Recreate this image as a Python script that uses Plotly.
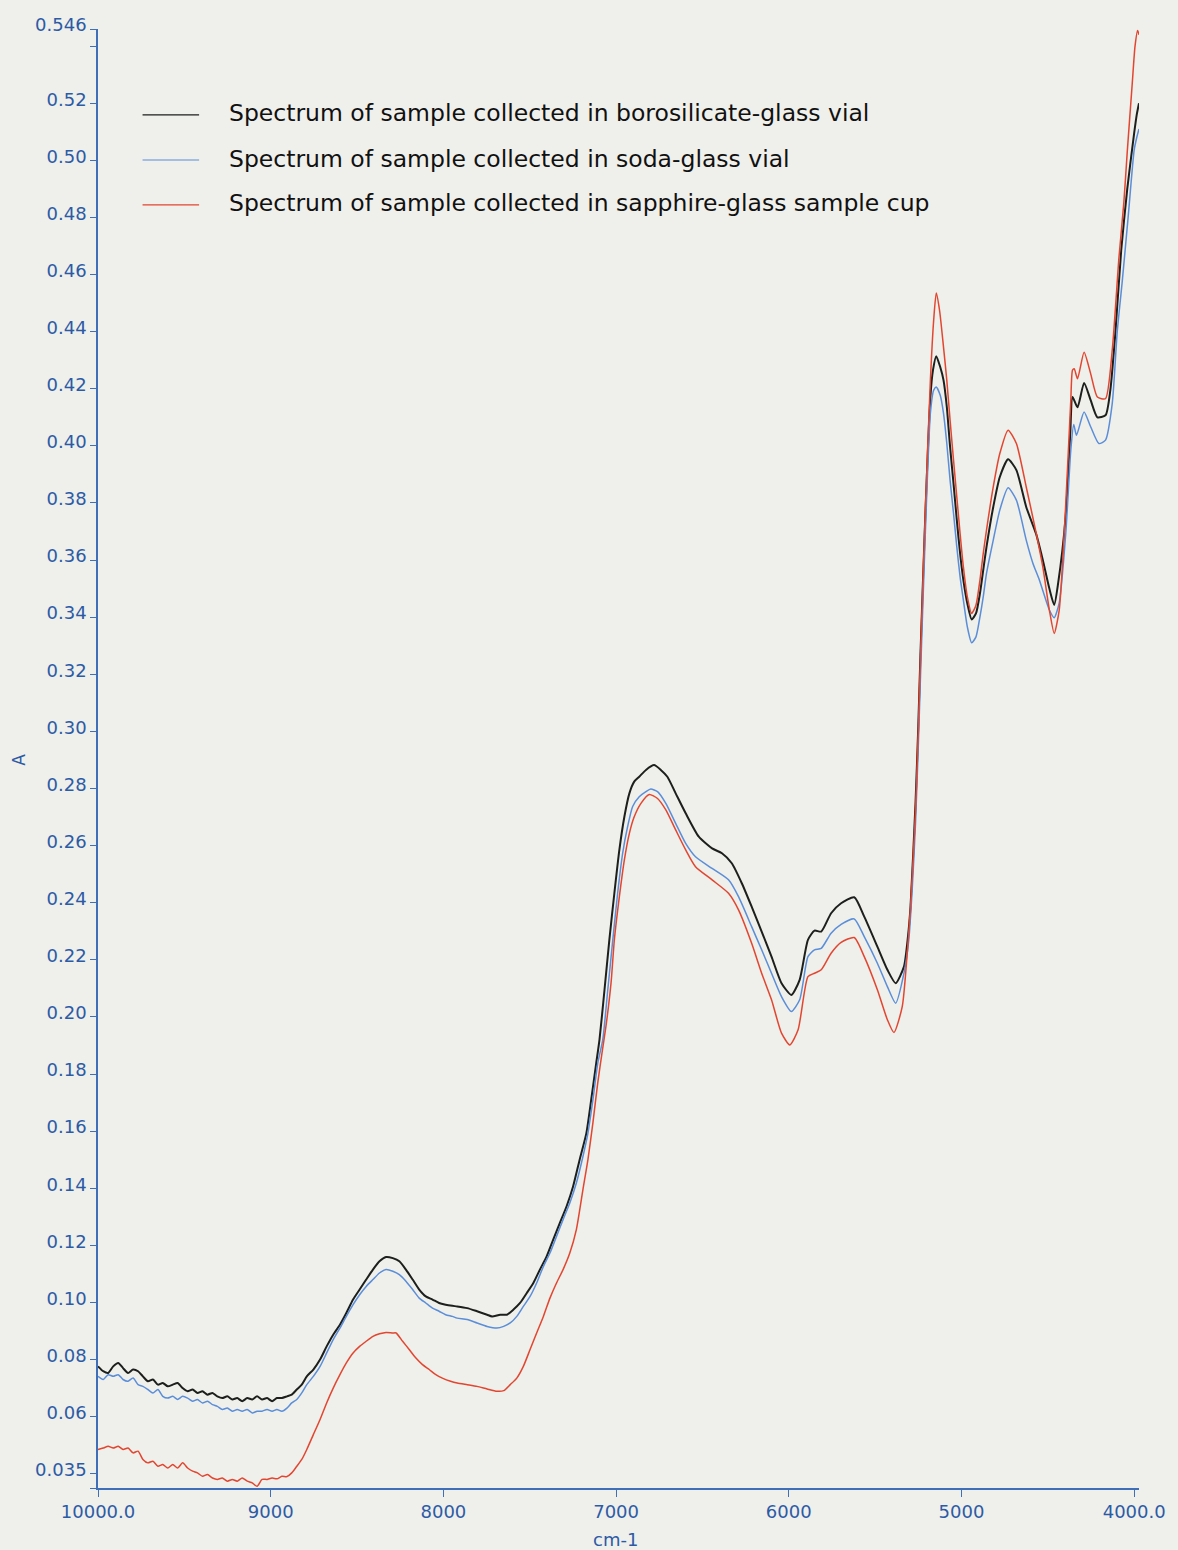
import plotly.graph_objects as go

# ---- NIR absorbance spectra (wavenumber in cm-1, absorbance A) ----
boro_cm = [10000, 9970, 9941, 9912, 9883, 9855, 9826, 9797, 9768, 9740, 9711, 9682, 9653, 9625,
           9596, 9567, 9539, 9510, 9481, 9452, 9424, 9395, 9366, 9337, 9309, 9280, 9251, 9222,
           9194, 9165, 9136, 9107, 9079, 9050, 9021, 8992, 8964, 8935, 8906, 8878, 8849, 8820,
           8791, 8753, 8714, 8676, 8638, 8599, 8562, 8523, 8485, 8447, 8408, 8370, 8332, 8293,
           8255, 8217, 8178, 8140, 8102, 8063, 8025, 7987, 7948, 7920, 7862, 7805, 7747, 7718,
           7671, 7632, 7594, 7556, 7517, 7479, 7441, 7402, 7364, 7326, 7287, 7249, 7211, 7172,
           7144, 7115, 7096, 7067, 7039, 7010, 6981, 6952, 6923, 6895, 6866, 6827, 6780, 6741,
           6703, 6655, 6597, 6521, 6444, 6387, 6330, 6272, 6215, 6157, 6100, 6042, 5985, 5937,
           5889, 5851, 5812, 5755, 5697, 5621, 5563, 5487, 5429, 5381, 5333, 5310, 5295, 5266,
           5250, 5238, 5209, 5180, 5165, 5146, 5123, 5104, 5085, 5066, 5046, 5027, 5008, 4989,
           4966, 4941, 4916, 4893, 4874, 4855, 4816, 4778, 4730, 4682, 4625, 4567, 4529, 4491,
           4463, 4440, 4397, 4370, 4357, 4328, 4290, 4252, 4213, 4166, 4138, 4109, 4075, 4040,
           4000, 3985, 3972]
boro_abs = [0.0776, 0.0759, 0.0753, 0.0776, 0.0788, 0.0770, 0.0753, 0.0765, 0.0759, 0.0741,
            0.0724, 0.0730, 0.0712, 0.0718, 0.0706, 0.0712, 0.0718, 0.0700, 0.0689, 0.0695,
            0.0683, 0.0689, 0.0677, 0.0683, 0.0671, 0.0665, 0.0671, 0.0660, 0.0665, 0.0654,
            0.0665, 0.0660, 0.0671, 0.0660, 0.0665, 0.0654, 0.0665, 0.0665, 0.0671, 0.0677,
            0.0695, 0.0712, 0.0741, 0.0765, 0.0800, 0.0846, 0.0887, 0.0922, 0.0963, 0.1010,
            0.1045, 0.1080, 0.1115, 0.1144, 0.1159, 0.1155, 0.1144, 0.1115, 0.1080, 0.1045,
            0.1021, 0.1010, 0.0998, 0.0992, 0.0988, 0.0986, 0.0980, 0.0969, 0.0957, 0.0951,
            0.0957, 0.0957, 0.0975, 0.0998, 0.1033, 0.1068, 0.1115, 0.1161, 0.1220, 0.1278,
            0.1336, 0.1406, 0.1500, 0.1593, 0.1710, 0.1838, 0.1920, 0.2095, 0.2270, 0.2433,
            0.2585, 0.2701, 0.2783, 0.2824, 0.2841, 0.2865, 0.2882, 0.2865, 0.2841, 0.2783,
            0.2713, 0.2631, 0.2590, 0.2573, 0.2538, 0.2468, 0.2386, 0.2299, 0.2211, 0.2118,
            0.2077, 0.2130, 0.2270, 0.2302, 0.2299, 0.2363, 0.2398, 0.2419, 0.2351, 0.2246,
            0.2165, 0.2118, 0.2176, 0.2280, 0.2386, 0.2750, 0.3020, 0.3260, 0.3763, 0.4171,
            0.4265, 0.4314, 0.4276, 0.4230, 0.4137, 0.3997, 0.3868, 0.3740, 0.3623, 0.3530,
            0.3448, 0.3392, 0.3413, 0.3483, 0.3565, 0.3646, 0.3786, 0.3891, 0.3953, 0.3915,
            0.3786, 0.3690, 0.3600, 0.3500, 0.3443, 0.3520, 0.3750, 0.4044, 0.4171, 0.4135,
            0.4220, 0.4160, 0.4100, 0.4107, 0.4195, 0.4395, 0.4685, 0.4900, 0.5095, 0.5160,
            0.5200]

soda_cm = [10000, 9970, 9941, 9912, 9883, 9855, 9826, 9797, 9768, 9740, 9711, 9682, 9653, 9625,
           9596, 9567, 9539, 9510, 9481, 9452, 9424, 9395, 9366, 9337, 9309, 9280, 9251, 9222,
           9194, 9165, 9136, 9107, 9079, 9050, 9021, 8992, 8964, 8935, 8906, 8878, 8849, 8820,
           8791, 8753, 8714, 8676, 8638, 8599, 8562, 8523, 8485, 8447, 8408, 8370, 8332, 8293,
           8255, 8217, 8178, 8140, 8102, 8063, 8025, 7987, 7948, 7920, 7862, 7805, 7747, 7690,
           7651, 7613, 7575, 7537, 7498, 7460, 7421, 7383, 7345, 7307, 7268, 7230, 7192, 7163,
           7134, 7106, 7077, 7048, 7019, 6991, 6962, 6933, 6904, 6866, 6827, 6799, 6760, 6712,
           6655, 6597, 6540, 6444, 6349, 6291, 6215, 6157, 6100, 6042, 5985, 5937, 5889, 5851,
           5812, 5755, 5697, 5621, 5563, 5487, 5429, 5381, 5333, 5305, 5285, 5266, 5250, 5238,
           5209, 5180, 5161, 5146, 5123, 5104, 5085, 5066, 5046, 5027, 5008, 4989, 4966, 4941,
           4916, 4893, 4874, 4855, 4816, 4778, 4730, 4682, 4625, 4587, 4549, 4491, 4463, 4434,
           4396, 4367, 4350, 4334, 4290, 4252, 4204, 4166, 4127, 4098, 4070, 4035, 4000, 3985,
           3972]
soda_abs = [0.0741, 0.0730, 0.0747, 0.0741, 0.0747, 0.0730, 0.0724, 0.0735, 0.0712, 0.0706,
            0.0695, 0.0683, 0.0695, 0.0671, 0.0665, 0.0671, 0.0660, 0.0671, 0.0665, 0.0654,
            0.0660, 0.0648, 0.0654, 0.0642, 0.0636, 0.0625, 0.0630, 0.0619, 0.0625, 0.0619,
            0.0625, 0.0613, 0.0619, 0.0619, 0.0625, 0.0619, 0.0625, 0.0619, 0.0630, 0.0648,
            0.0660, 0.0683, 0.0712, 0.0741, 0.0776, 0.0823, 0.0870, 0.0910, 0.0951, 0.0992,
            0.1027, 0.1056, 0.1080, 0.1103, 0.1115, 0.1109, 0.1097, 0.1074, 0.1045, 0.1015,
            0.0998, 0.0980, 0.0969, 0.0957, 0.0951, 0.0945, 0.0940, 0.0928, 0.0916, 0.0910,
            0.0916, 0.0928, 0.0951, 0.0986, 0.1021, 0.1068, 0.1126, 0.1173, 0.1231, 0.1290,
            0.1348, 0.1418, 0.1511, 0.1593, 0.1710, 0.1838, 0.1920, 0.2095, 0.2270, 0.2433,
            0.2573, 0.2667, 0.2737, 0.2771, 0.2789, 0.2798, 0.2789, 0.2748, 0.2678, 0.2608,
            0.2561, 0.2520, 0.2480, 0.2421, 0.2316, 0.2235, 0.2153, 0.2071, 0.2019, 0.2060,
            0.2211, 0.2235, 0.2240, 0.2293, 0.2324, 0.2343, 0.2281, 0.2188, 0.2106, 0.2048,
            0.2153, 0.2270, 0.2450, 0.2680, 0.2950, 0.3180, 0.3700, 0.4115, 0.4195, 0.4206,
            0.4177, 0.4114, 0.4009, 0.3880, 0.3763, 0.3646, 0.3541, 0.3460, 0.3366, 0.3310,
            0.3331, 0.3401, 0.3471, 0.3553, 0.3670, 0.3775, 0.3853, 0.3810, 0.3670, 0.3590,
            0.3530, 0.3425, 0.3398, 0.3450, 0.3694, 0.3985, 0.4075, 0.4037, 0.4119, 0.4067,
            0.4008, 0.4020, 0.4148, 0.4400, 0.4570, 0.4800, 0.5036, 0.5080, 0.5110]

sapph_cm = [10000, 9970, 9941, 9912, 9883, 9855, 9826, 9797, 9768, 9740, 9711, 9682, 9653, 9625,
            9596, 9567, 9539, 9510, 9481, 9452, 9424, 9395, 9366, 9337, 9309, 9280, 9251, 9222,
            9194, 9165, 9136, 9107, 9079, 9050, 9021, 8992, 8964, 8935, 8906, 8878, 8849, 8820,
            8791, 8753, 8714, 8676, 8638, 8599, 8562, 8523, 8485, 8447, 8408, 8370, 8332, 8293,
            8274, 8236, 8198, 8159, 8121, 8082, 8044, 8006, 7958, 7920, 7862, 7805, 7747, 7690,
            7651, 7613, 7575, 7537, 7498, 7460, 7421, 7383, 7345, 7307, 7268, 7230, 7192, 7163,
            7134, 7106, 7080, 7058, 7029, 7010, 6981, 6952, 6923, 6895, 6856, 6808, 6760, 6712,
            6655, 6597, 6540, 6444, 6349, 6291, 6215, 6157, 6100, 6042, 5994, 5946, 5889, 5851,
            5812, 5755, 5697, 5621, 5563, 5487, 5429, 5391, 5343, 5314, 5295, 5266, 5250, 5238,
            5209, 5180, 5161, 5146, 5127, 5104, 5085, 5066, 5046, 5027, 5008, 4989, 4966, 4941,
            4916, 4893, 4874, 4855, 4816, 4778, 4730, 4682, 4625, 4567, 4529, 4491, 4463, 4434,
            4396, 4367, 4357, 4347, 4328, 4290, 4252, 4213, 4166, 4127, 4088, 4060, 4040, 4011,
            3995, 3980, 3972]
sapph_abs = [0.0485, 0.0490, 0.0496, 0.0490, 0.0496, 0.0485, 0.0490, 0.0473, 0.0479, 0.0450,
             0.0438, 0.0444, 0.0426, 0.0432, 0.0420, 0.0432, 0.0420, 0.0438, 0.0420, 0.0409,
             0.0403, 0.0391, 0.0397, 0.0385, 0.0380, 0.0385, 0.0374, 0.0380, 0.0374, 0.0385,
             0.0374, 0.0368, 0.0356, 0.0380, 0.0380, 0.0385, 0.0382, 0.0391, 0.0390, 0.0403,
             0.0426, 0.0450, 0.0485, 0.0537, 0.0590, 0.0648, 0.0700, 0.0747, 0.0788, 0.0823,
             0.0846, 0.0864, 0.0881, 0.0890, 0.0895, 0.0893, 0.0893, 0.0864, 0.0835, 0.0805,
             0.0782, 0.0765, 0.0747, 0.0735, 0.0724, 0.0718, 0.0712, 0.0706, 0.0697, 0.0689,
             0.0691, 0.0712, 0.0735, 0.0776, 0.0835, 0.0893, 0.0951, 0.1015, 0.1068, 0.1115,
             0.1173, 0.1255, 0.1395, 0.1500, 0.1630, 0.1770, 0.1880, 0.1970, 0.2120, 0.2270,
             0.2421, 0.2550, 0.2643, 0.2701, 0.2748, 0.2779, 0.2765, 0.2725, 0.2655, 0.2585,
             0.2526, 0.2480, 0.2433, 0.2375, 0.2258, 0.2153, 0.2060, 0.1943, 0.1902, 0.1955,
             0.2141, 0.2153, 0.2165, 0.2223, 0.2261, 0.2278, 0.2211, 0.2095, 0.1990, 0.1945,
             0.2036, 0.2223, 0.2386, 0.2720, 0.3000, 0.3250, 0.3780, 0.4230, 0.4440, 0.4535,
             0.4475, 0.4346, 0.4230, 0.4090, 0.3950, 0.3821, 0.3693, 0.3576, 0.3471, 0.3413,
             0.3442, 0.3530, 0.3623, 0.3705, 0.3856, 0.3973, 0.4055, 0.4008, 0.3856, 0.3693,
             0.3576, 0.3425, 0.3343, 0.3425, 0.3798, 0.4160, 0.4265, 0.4270, 0.4235, 0.4328,
             0.4253, 0.4171, 0.4165, 0.4335, 0.4660, 0.4850, 0.5030, 0.5270, 0.5400, 0.5455,
             0.5440]

series_names = [
    "Spectrum of sample collected in borosilicate-glass vial",
    "Spectrum of sample collected in soda-glass vial",
    "Spectrum of sample collected in sapphire-glass sample cup",
]
series_colors = ["#1c1f1c", "#5a8ed8", "#e2462f"]
series_widths = [2.0, 1.5, 1.5]

# axis ticks
x_tick_vals = [10000, 9000, 8000, 7000, 6000, 5000, 4000]
x_tick_text = ["10000.0", "9000", "8000", "7000", "6000", "5000", "4000.0"]
y_tick_vals = [0.035, 0.04, 0.06, 0.08, 0.10, 0.12, 0.14, 0.16, 0.18, 0.20, 0.22, 0.24, 0.26,
               0.28, 0.30, 0.32, 0.34, 0.36, 0.38, 0.40, 0.42, 0.44, 0.46, 0.48, 0.50, 0.52,
               0.54, 0.546]
y_tick_text = ["", "0.035", "0.06", "0.08", "0.10", "0.12", "0.14", "0.16", "0.18", "0.20",
               "0.22", "0.24", "0.26", "0.28", "0.30", "0.32", "0.34", "0.36", "0.38", "0.40",
               "0.42", "0.44", "0.46", "0.48", "0.50", "0.52", "", "0.546"]

AXIS_BLUE = "#3f6fb8"
TEXT_BLUE = "#2c5ba6"
PAPER = "#efefeb"
FONT = "DejaVu Sans, Liberation Sans, sans-serif"

fig = go.Figure()
for xs, ys, name, col, w in zip([boro_cm, soda_cm, sapph_cm],
                                [boro_abs, soda_abs, sapph_abs],
                                series_names, series_colors, series_widths):
    fig.add_trace(go.Scatter(x=xs, y=ys, mode="lines", name=name,
                             line=dict(color=col, width=w, shape="spline", smoothing=0.6),
                             showlegend=False))

# hand-drawn legend: short line sample plus label for each spectrum
legend_y = [0.9411, 0.9102, 0.8794]
for name, col, yy in zip(series_names, series_colors, legend_y):
    fig.add_shape(type="line", xref="paper", yref="paper",
                  x0=0.0428, x1=0.0971, y0=yy, y1=yy,
                  line=dict(color=col, width=1.2))
    fig.add_annotation(xref="paper", yref="paper", x=0.1240, y=yy + 0.001,
                       xanchor="left", yanchor="middle", showarrow=False,
                       text=name, font=dict(family=FONT, size=23.5, color="#111111"))

# axis titles
fig.add_annotation(xref="paper", yref="paper", x=0.4975, y=-0.0356,
                   xanchor="center", yanchor="middle", showarrow=False,
                   text="cm-1", font=dict(family=FONT, size=18, color=TEXT_BLUE))
fig.add_annotation(xref="paper", yref="paper", x=-0.0761, y=0.499,
                   xanchor="center", yanchor="middle", showarrow=False, textangle=-90,
                   text="A", font=dict(family=FONT, size=17, color=TEXT_BLUE))

fig.update_layout(
    width=1178, height=1550,
    margin=dict(l=98, r=28, t=29, b=62),
    paper_bgcolor=PAPER, plot_bgcolor=PAPER,
    font=dict(family=FONT, color=TEXT_BLUE),
    xaxis=dict(range=[10000, 3972], tickvals=x_tick_vals, ticktext=x_tick_text,
               showgrid=False, zeroline=False, showline=True, linecolor=AXIS_BLUE,
               linewidth=1.5, ticks="outside", ticklen=7, tickcolor=AXIS_BLUE,
               tickwidth=1.3, ticklabeloverflow="allow",
               tickfont=dict(family=FONT, size=18, color=TEXT_BLUE)),
    yaxis=dict(range=[0.035, 0.546], tickvals=y_tick_vals, ticktext=y_tick_text,
               showgrid=False, zeroline=False, showline=True, linecolor=AXIS_BLUE,
               linewidth=1.5, ticks="outside", ticklen=6, tickcolor=AXIS_BLUE,
               tickwidth=1.3, ticklabelshift=-4, ticklabeloverflow="allow",
               tickfont=dict(family=FONT, size=18, color=TEXT_BLUE)),
)

fig.write_html("out.html")
